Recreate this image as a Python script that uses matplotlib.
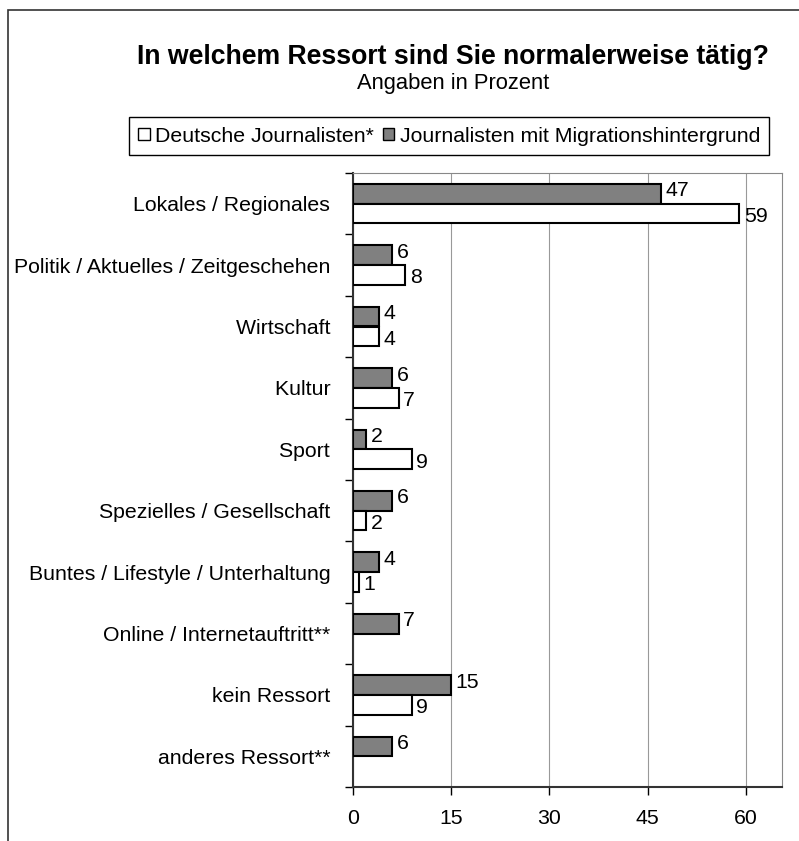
import matplotlib.pyplot as plt
import numpy as np
from matplotlib.patches import Rectangle

plt.rcParams['font.family'] = ['Liberation Sans', 'DejaVu Sans']

categories = ["Lokales / Regionales", "Politik / Aktuelles / Zeitgeschehen", "Wirtschaft",
              "Kultur", "Sport", "Spezielles / Gesellschaft", "Buntes / Lifestyle / Unterhaltung",
              "Online / Internetauftritt**", "kein Ressort", "anderes Ressort**"]
deutsche = [59, 8, 4, 7, 9, 2, 1, None, 9, None]
migration = [47, 6, 4, 6, 2, 6, 4, 7, 15, 6]
xticks = [0, 15, 30, 45, 60]

W, H = 799, 841
fs = 15.3
fig = plt.figure(figsize=(W / 100, H / 100), dpi=100)
ax = fig.add_axes([352.7 / W, 1 - 787 / H, (782 - 352.7) / W, (787 - 173) / H])

n = len(categories)
y = np.arange(n)
bh = 0.32

for i, v in enumerate(migration):
    ax.barh(y[i] - bh / 2, v, height=bh, color='#808080', edgecolor='black', linewidth=1.5, zorder=3)
    ax.text(v + 0.7, y[i] - bh / 2 - 0.05, str(v), va='center', ha='left', fontsize=fs)
for i, v in enumerate(deutsche):
    if v is None:
        continue
    ax.barh(y[i] + bh / 2, v, height=bh, color='white', edgecolor='black', linewidth=1.5, zorder=3)
    ax.text(v + 0.7, y[i] + bh / 2 + 0.05, str(v), va='center', ha='left', fontsize=fs)

ax.set_ylim(n - 0.5, -0.5)
ax.set_xlim(0, 65.5)
ax.set_xticks(xticks)
ax.set_xticklabels([str(t) for t in xticks], fontsize=fs)
ax.set_yticks(y)
ax.set_yticklabels([c + " " for c in categories], fontsize=fs)
ax.set_yticks(np.arange(n + 1) - 0.5, minor=True)
ax.tick_params(axis='y', which='major', length=0, pad=12)
ax.tick_params(axis='y', which='minor', length=6, width=1, direction='out')
ax.tick_params(axis='x', length=6, width=1, direction='out', pad=10)
ax.xaxis.grid(True, color='#999999', linewidth=0.8, zorder=0)
for s in ['top', 'right']:
    ax.spines[s].set_color('#888888')
for s in ['left', 'bottom']:
    ax.spines[s].set_color('#333333')
    ax.spines[s].set_linewidth(1.5)

fig.text(453 / W, 1 - 57 / H, "In welchem Ressort sind Sie normalerweise tätig?",
         ha='center', va='center', fontsize=19.2, fontweight='bold')
fig.text(453 / W, 1 - 84 / H, "Angaben in Prozent", ha='center', va='center', fontsize=15.8)

h1 = Rectangle((0, 0), 1, 1, facecolor='white', edgecolor='black', linewidth=1)
h2 = Rectangle((0, 0), 1, 1, facecolor='#808080', edgecolor='black', linewidth=1)
leg = fig.legend([h1, h2], ["Deutsche Journalisten*", "Journalisten mit Migrationshintergrund"],
                 loc='center', bbox_to_anchor=(449 / W, 1 - 136 / H), ncol=2, fontsize=15.3,
                 handlelength=0.55, handleheight=0.55, handletextpad=0.25, columnspacing=0.4,
                 fancybox=False, edgecolor='black', framealpha=1, borderpad=0.45)
leg.get_frame().set_linewidth(1)

fig.add_artist(Rectangle((8 / W, -0.05), 1.2, 1 - 10 / H + 0.05, transform=fig.transFigure,
                         fill=False, edgecolor='#333333', linewidth=1.2))

fig.savefig('out.png', dpi=100)
